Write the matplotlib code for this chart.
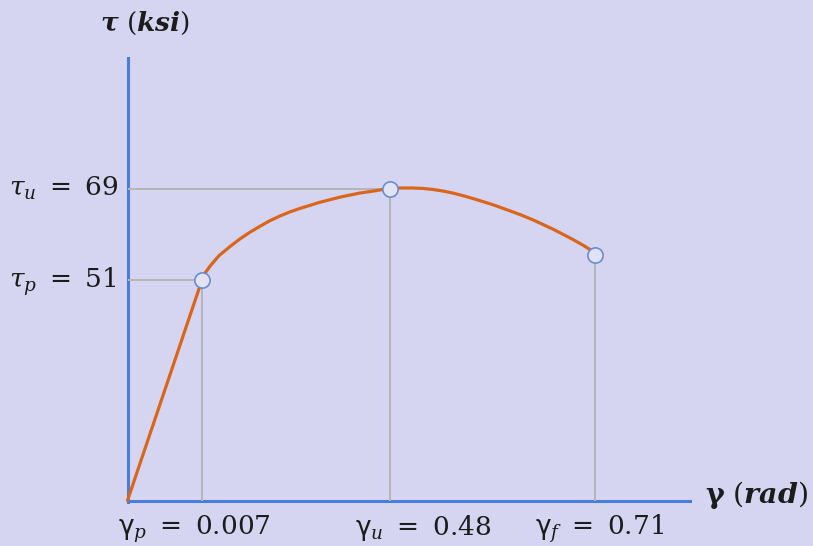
import numpy as np
import matplotlib
matplotlib.use("Agg")
import matplotlib.pyplot as plt

plt.rcParams["mathtext.fontset"] = "dejavuserif"
plt.rcParams["font.family"] = ["DejaVu Serif"]

# Key points of the shear stress-strain curve
gamma_key = [0.007, 0.48, 0.71]          # gamma_p, gamma_u, gamma_f (rad)
tau_key = [51, 69, 56]                   # tau_p, tau_u, tau at fracture (ksi)
gamma_labels = [r"$\mathsf{\gamma}_p\ =\ 0.007$", r"$\mathsf{\gamma}_u\ =\ 0.48$",
                r"$\mathsf{\gamma}_f\ =\ 0.71$"]
tau_labels = [r"$\tau_p\ =\ 51$", r"$\tau_u\ =\ 69$"]

# Traced curve: elastic line to the proportional limit, then the plastic arc
gamma_curve = [0.0, 0.007, 0.016, 0.027, 0.050, 0.078, 0.103, 0.128, 0.154,
               0.179, 0.204, 0.229, 0.255, 0.280, 0.305, 0.330, 0.355, 0.380,
               0.405, 0.431, 0.455, 0.48, 0.493, 0.506, 0.518, 0.529, 0.540,
               0.551, 0.562, 0.574, 0.585, 0.596, 0.607, 0.618, 0.630, 0.641,
               0.652, 0.663, 0.674, 0.685, 0.697, 0.71]
tau_curve = [0.0, 51.0, 52.5, 53.7, 55.8, 57.6, 59.1, 60.4, 61.6, 62.7, 63.6,
             64.4, 65.1, 65.7, 66.3, 66.8, 67.3, 67.7, 68.1, 68.4, 68.7, 69.0,
             69.1, 69.1, 69.0, 68.8, 68.5, 68.1, 67.6, 67.0, 66.4, 65.8, 65.1,
             64.4, 63.6, 62.8, 61.9, 61.0, 60.0, 59.0, 57.8, 56.4]

# Schematic (not-to-scale) axes: piecewise-linear scales through the key values
gx = [-0.05, 0.0, 0.007, 0.48, 0.71, 1.2]
px = [-404.6, 127.5, 202.0, 389.5, 595.0, 1032.8]
ty = [-30.0, 0.0, 51.0, 69.0, 150.0]
py = [-84.2, 45.5, 266.0, 357.5, 769.3]


def fx(v):
    return np.interp(v, gx, px)


def ix(v):
    return np.interp(v, px, gx)


def fy(v):
    return np.interp(v, ty, py)


def iy(v):
    return np.interp(v, py, ty)


W, H = 813, 546
bg = "#d5d5f1"
axis_blue = "#4a7ed6"
curve_orange = "#d9661c"
guide_grey = "#b5b5b8"

fig = plt.figure(figsize=(W / 100, H / 100), dpi=100, facecolor=bg)
ax = fig.add_axes([0, 0, 1, 1])
ax.set_facecolor(bg)
ax.set_xscale("function", functions=(fx, ix))
ax.set_yscale("function", functions=(fy, iy))
ax.set_xlim(ix(0), ix(W))
ax.set_ylim(iy(0), iy(H))
ax.set_xticks([])
ax.set_yticks([])
ax.minorticks_off()

# Axis lines through the origin
for side in ("top", "right"):
    ax.spines[side].set_visible(False)
ax.spines["left"].set_position(("data", 0))
ax.spines["bottom"].set_position(("data", 0))
ax.spines["left"].set_bounds(iy(H - 502), iy(H - 58))
ax.spines["bottom"].set_bounds(0, ix(690))
for side in ("left", "bottom"):
    ax.spines[side].set_color(axis_blue)
    ax.spines[side].set_linewidth(2.2)
    ax.spines[side].set_zorder(1)

# Guide lines from the key points to the axes
ax.hlines(tau_key[:2], 0, gamma_key[:2], color=guide_grey, lw=1.4, zorder=2)
ax.vlines(gamma_key, 0, tau_key, color=guide_grey, lw=1.4, zorder=2)

ax.plot(gamma_curve, tau_curve, color=curve_orange, lw=2.3,
        solid_capstyle="round", solid_joinstyle="round", zorder=3)
ax.plot(gamma_key, tau_key, "o", ms=11, mfc="#e2e2f7", mec="#6a8dd0",
        mew=1.2, zorder=4)


def put(x, y, s, **kw):
    fig.text(x / W, 1 - y / H, s, va="baseline", color="#1c1c1c", **kw)


put(145, 31, r"$\mathbfit{\tau}\ (\mathbfit{ksi})$", ha="center", fontsize=19)
put(705, 503, r"$\mathbf{\gamma}\ (\mathbfit{rad})$", ha="left", fontsize=20.5)
put(9, 288, tau_labels[0], ha="left", fontsize=19)
put(9, 196, tau_labels[1], ha="left", fontsize=19)
for x0, s in zip([118, 355, 535], gamma_labels):
    put(x0, 535, s, ha="left", fontsize=19)

fig.savefig("out.png", dpi=100, facecolor=bg)
